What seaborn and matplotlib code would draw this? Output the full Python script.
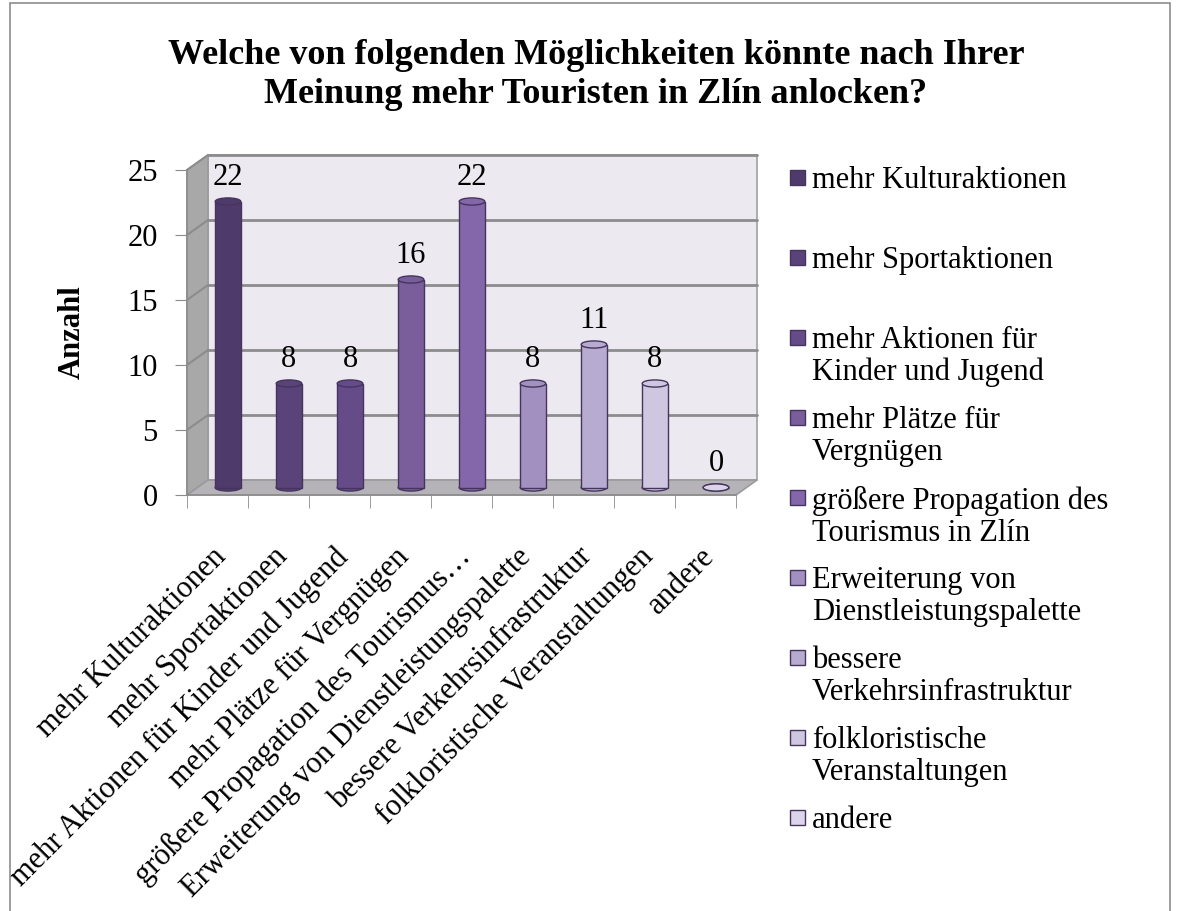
import matplotlib
matplotlib.use("Agg")
import matplotlib.pyplot as plt
from matplotlib.patches import Rectangle, Ellipse, Polygon
from matplotlib.transforms import ScaledTranslation
import seaborn as sns
import numpy as np

# data
categories = [
    "mehr Kulturaktionen",
    "mehr Sportaktionen",
    "mehr Aktionen für Kinder und Jugend",
    "mehr Plätze für Vergnügen",
    "größere Propagation des Tourismus in Zlín",
    "Erweiterung von Dienstleistungspalette",
    "bessere Verkehrsinfrastruktur",
    "folkloristische Veranstaltungen",
    "andere",
]
tick_labels = [
    "mehr Kulturaktionen",
    "mehr Sportaktionen",
    "mehr Aktionen für Kinder und Jugend",
    "mehr Plätze für Vergnügen",
    "größere Propagation des Tourismus…",
    "Erweiterung von Dienstleistungspalette",
    "bessere Verkehrsinfrastruktur",
    "folkloristische Veranstaltungen",
    "andere",
]
legend_labels = [
    "mehr Kulturaktionen",
    "mehr Sportaktionen",
    "mehr Aktionen für\nKinder und Jugend",
    "mehr Plätze für\nVergnügen",
    "größere Propagation des\nTourismus in Zlín",
    "Erweiterung von\nDienstleistungspalette",
    "bessere\nVerkehrsinfrastruktur",
    "folkloristische\nVeranstaltungen",
    "andere",
]
values = [22, 8, 8, 16, 22, 8, 11, 8, 0]
colors = ["#4f3b6b", "#5a4379", "#654c88", "#7a5e9c", "#8466ab",
          "#a291c0", "#b7abd0", "#cfc6df", "#dcd5e9"]
y_ticks = [0, 5, 10, 15, 20, 25]

title = "Welche von folgenden Möglichkeiten könnte nach Ihrer\nMeinung mehr Touristen in Zlín anlocken?"

sns.set_style("white")
plt.rcParams["font.family"] = ["Liberation Serif", "DejaVu Serif"]
plt.rcParams["text.color"] = "black"
plt.rcParams["xtick.labelcolor"] = "black"
plt.rcParams["ytick.labelcolor"] = "black"

W, H = 1178, 911
fig = plt.figure(figsize=(W / 100, H / 100), dpi=100)
ax = fig.add_axes([187 / W, 1 - 495 / H, (736 - 187) / W, (495 - 170) / H])
ax.set_facecolor("none")

sns.barplot(x=categories, y=values, hue=categories, palette=colors,
            width=0.42, legend=False, ax=ax, edgecolor="#45355e",
            linewidth=1, saturation=1, zorder=3)
bars = list(ax.patches)
ax.set_xlim(-0.5, 8.5)
ax.set_ylim(0, 25)

# 3d depth of the pseudo-3d chart, in pixels
depth = (21, 15)
back = ScaledTranslation(depth[0] / 100, depth[1] / 100, fig.dpi_scale_trans)
mid = ScaledTranslation(depth[0] / 200, depth[1] / 200, fig.dpi_scale_trans)

def pt(x, y, off=False):
    px, py = ax.transData.transform((x, y))
    if off:
        px, py = px + depth[0], py + depth[1]
    return (px / W, py / H)

x0, x1 = -0.5, 8.5
# back wall, side wall, floor
walls = [
    ([pt(x0, 0, 1), pt(x1, 0, 1), pt(x1, 25, 1), pt(x0, 25, 1)], "#ece9f0", "#a0a0a0"),
    ([pt(x0, 0), pt(x0, 25), pt(x0, 25, 1), pt(x0, 0, 1)], "#a8a8a8", "#9a9a9a"),
    ([pt(x0, 0), pt(x1, 0), pt(x1, 0, 1), pt(x0, 0, 1)], "#b5b3b8", "#9a9a9a"),
]
for poly, fc, ec in walls:
    ax.add_patch(Polygon(poly, closed=True, transform=fig.transFigure, fc=fc,
                         ec=ec, lw=1.2, zorder=0.2, clip_on=False))
for yv in y_ticks[1:]:
    ax.plot([x0, x1], [yv, yv], color="#8c8c8c", lw=2, transform=ax.transData + back,
            clip_on=False, zorder=0.5)
    ax.plot([pt(x0, yv)[0], pt(x0, yv, 1)[0]], [pt(x0, yv)[1], pt(x0, yv, 1)[1]],
            transform=fig.transFigure, color="#8c8c8c", lw=1.5, clip_on=False,
            zorder=0.5)

# cylinders: shift bars to mid depth, add elliptical caps
for b, col, v in zip(bars, colors, values):
    b.set_transform(ax.transData + mid)
    cx = b.get_x() + b.get_width() / 2
    w = b.get_width()
    ax.add_patch(Ellipse((cx, 0), w, 0.55, fc=col, ec="#45355e", lw=1,
                         transform=ax.transData + mid, zorder=2, clip_on=False))
    ax.add_patch(Ellipse((cx, v), w, 0.55, fc=col, ec="#45355e", lw=1,
                         transform=ax.transData + mid, zorder=4, clip_on=False))
    ax.text(cx, v + 0.75, str(v), ha="center", va="bottom", fontsize=22,
            transform=ax.transData + mid, zorder=5)

for s in ["top", "right"]:
    ax.spines[s].set_visible(False)
for s in ["left", "bottom"]:
    ax.spines[s].set_color("#8c8c8c")
    ax.spines[s].set_linewidth(1.2)

ax.set_yticks(y_ticks)
ax.tick_params(axis="y", labelsize=22, length=9, color="#8c8c8c", pad=12, left=True)
ax.set_xticks(range(len(categories)))
ax.set_xticks(np.arange(-0.5, 9, 1), minor=True)
ax.set_xticklabels(tick_labels, rotation=45, ha="right", rotation_mode="anchor",
                   fontsize=22)
ax.tick_params(axis="x", which="major", length=0, pad=34)
ax.tick_params(axis="x", which="minor", length=9, color="#8c8c8c", bottom=True)
lab_shift = ScaledTranslation(-0.06, 0, fig.dpi_scale_trans)
for lab in ax.get_xticklabels():
    lab.set_transform(lab.get_transform() + lab_shift)
ax.set_xlabel("")
ax.set_ylabel("")

fig.text(72 / W, 1 - 332 / H, "Anzahl", rotation=90, ha="center", va="center",
         fontsize=22, fontweight="bold")
fig.text(596 / W, 1 - 75 / H, title, ha="center", va="center", fontsize=26,
         fontweight="bold", linespacing=1.22)

# legend
for i, (lab, col) in enumerate(zip(legend_labels, colors)):
    yc = 178 + 80 * i
    fig.patches.append(Rectangle((790 / W, 1 - (yc + 7) / H), 15 / W, 15 / H,
                                 transform=fig.transFigure, fc=col, ec="#45355e", lw=1))
    fig.text(812 / W, 1 - (yc - 12) / H, lab, ha="left", va="top", fontsize=22,
             linespacing=1.12)

# outer chart frame
fig.patches.append(Rectangle((10 / W, -0.1), 1160 / W, 1.1 - 3 / H,
                             transform=fig.transFigure, fc="none", ec="#8c8c8c", lw=1.2))

fig.savefig("out.png", dpi=100)
